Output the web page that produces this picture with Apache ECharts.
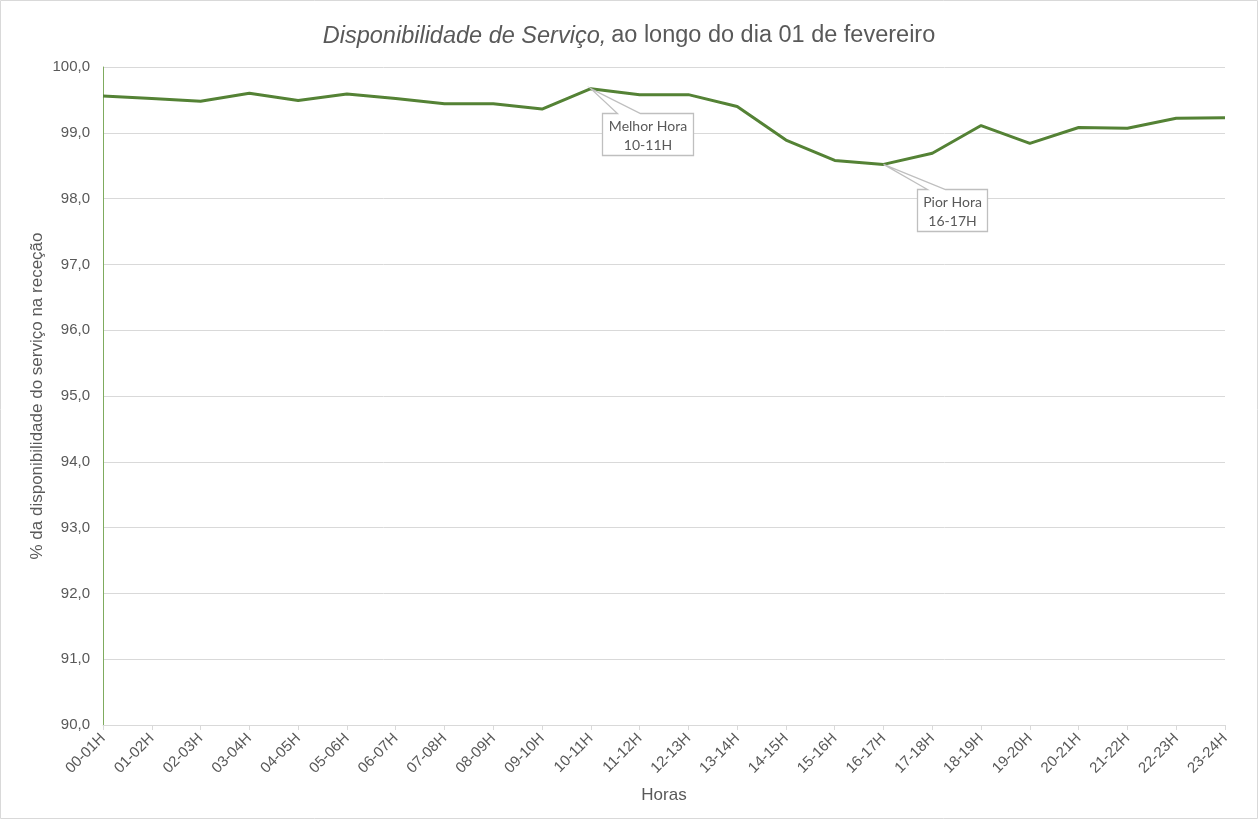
<!DOCTYPE html>
<html><head><meta charset="utf-8">
<script src="https://cdn.jsdelivr.net/npm/echarts@6/dist/echarts.min.js"></script>
<style>html,body{margin:0;padding:0;background:#fff}#c{width:1258px;height:819px}</style>
</head><body><div id="c"></div>
<script>
const categories = ['00-01H','01-02H','02-03H','03-04H','04-05H','05-06H','06-07H','07-08H','08-09H','09-10H','10-11H','11-12H','12-13H','13-14H','14-15H','15-16H','16-17H','17-18H','18-19H','19-20H','20-21H','21-22H','22-23H','23-24H'];
const availability = [99.56,99.52,99.48,99.60,99.49,99.59,99.52,99.44,99.44,99.36,99.67,99.58,99.58,99.40,98.89,98.58,98.52,98.69,99.11,98.84,99.08,99.07,99.22,99.23];
const yTicks = {min: 90, max: 100, interval: 1};
const annotations = [
  {index: 10, lines: ['Melhor Hora', '10-11H']},
  {index: 16, lines: ['Pior Hora', '16-17H']}
];
const annoLayout = [
  {dx: 11, w: 91, dy: 24, h: 42, w1: 15, w2: 38},
  {dx: 33, w: 70, dy: 25, h: 42, w1: 10, w2: 28}
];

const chart = echarts.init(document.getElementById('c'));
const gray = '#595959';
const ff = 'Liberation Sans';
chart.setOption({
  animation: false,
  title: {
    text: '{i|Disponibilidade de Serviço,} {n|ao longo do dia 01 de fevereiro}',
    left: 'center', top: 19,
    textStyle: {
      fontWeight: 'normal',
      rich: {
        i: {fontStyle: 'italic', fontWeight: 'normal', fontSize: 23.5, color: gray, fontFamily: ff},
        n: {fontWeight: 'normal', fontSize: 23.5, color: gray, fontFamily: ff}
      }
    }
  },
  grid: {left: 103, right: 33, top: 67, bottom: 94, containLabel: false},
  xAxis: {
    type: 'category', data: categories, boundaryGap: false,
    name: 'Horas', nameLocation: 'middle', nameGap: 62, nameMoveOverlap: false,
    nameTextStyle: {color: gray, fontSize: 17, fontFamily: ff},
    axisLine: {lineStyle: {color: '#d9d9d9'}},
    axisTick: {show: true, length: 5, lineStyle: {color: '#d9d9d9'}},
    axisLabel: {rotate: 45, color: gray, fontSize: 15, fontFamily: ff, margin: 11, interval: 0}
  },
  yAxis: {
    type: 'value', min: yTicks.min, max: yTicks.max, interval: yTicks.interval,
    name: '% da disponibilidade do serviço na receção', nameLocation: 'middle', nameGap: 57, nameMoveOverlap: false,
    nameTextStyle: {color: gray, fontSize: 17, fontFamily: ff},
    axisLine: {show: true, lineStyle: {color: '#7fab5e', width: 1}},
    axisTick: {show: false},
    splitLine: {lineStyle: {color: '#d9d9d9'}},
    axisLabel: {color: gray, fontSize: 15, fontFamily: ff, margin: 13,
      formatter: v => v.toFixed(1).replace('.', ',')}
  },
  series: [{
    type: 'line', data: availability, showSymbol: false, symbol: 'none',
    lineStyle: {color: '#548235', width: 3}, z: 3
  }]
});

const g = [{type: 'rect', shape: {x: 0.5, y: 0.5, width: 1257, height: 818}, style: {fill: 'none', stroke: '#d9d9d9', lineWidth: 1}, silent: true}];
annotations.forEach((a, k) => {
  const L = annoLayout[k];
  const p = chart.convertToPixel({seriesIndex: 0}, [a.index, availability[a.index]]);
  const x0 = Math.round(p[0] + L.dx) + 0.5, y0 = Math.round(p[1] + L.dy) + 0.5;
  g.push({type: 'polygon', z: 10, shape: {points: [
    [x0, y0], [x0 + L.w1, y0], [p[0], p[1]], [x0 + L.w2, y0], [x0 + L.w, y0], [x0 + L.w, y0 + L.h], [x0, y0 + L.h]
  ]}, style: {fill: '#fff', stroke: '#bfbfbf', lineWidth: 1.3}});
  g.push({type: 'text', z: 11, x: x0 + L.w / 2, y: y0 + L.h / 2 + 1, style: {
    text: a.lines.join('\n'), fill: gray, fontSize: 14, fontFamily: 'Lato', align: 'center', verticalAlign: 'middle', lineHeight: 19
  }});
});
chart.setOption({graphic: g});
</script></body></html>
